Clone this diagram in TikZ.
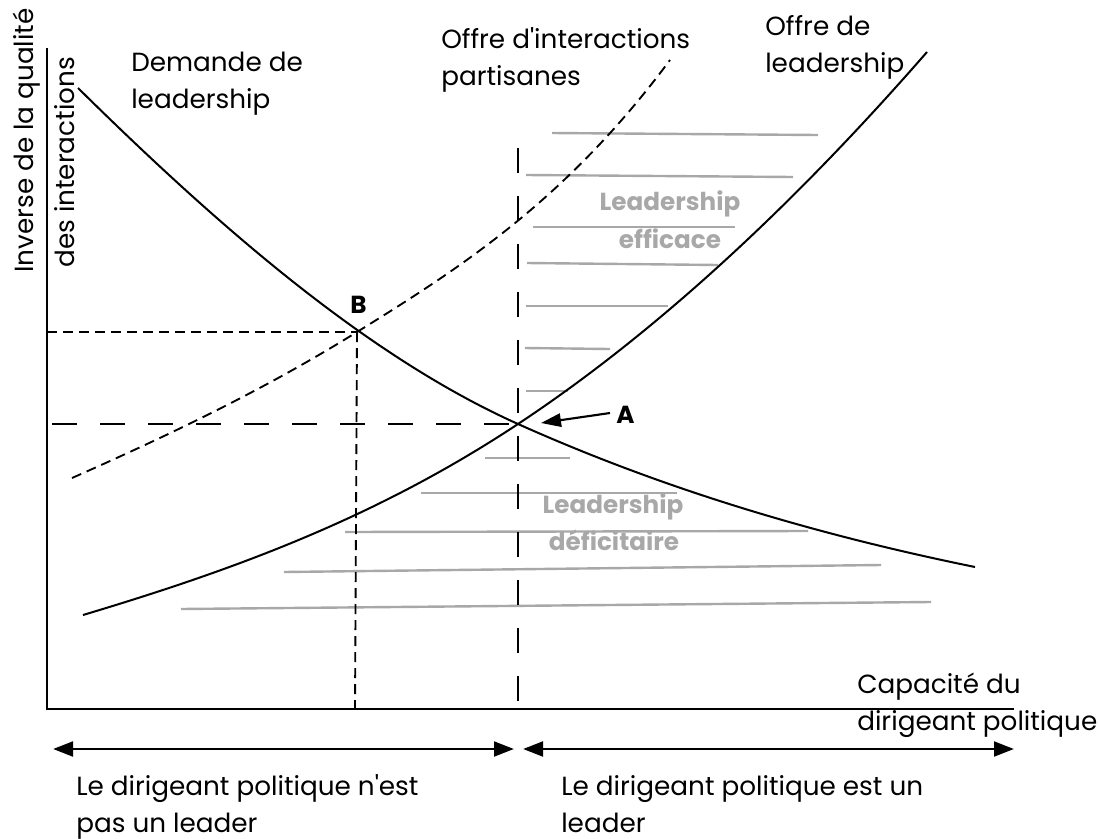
\documentclass[tikz,border=0pt]{standalone}
\usepackage{fontspec}
\setmainfont{Poppins}
\usetikzlibrary{arrows.meta}
\definecolor{hatchgray}{HTML}{A8A8A8}
\begin{document}
\begin{tikzpicture}[x=0.75pt,y=-0.75pt,
  curve/.style={line width=1.5pt, line join=round},
  axisline/.style={line width=2pt},
  hatch/.style={line width=1.8pt, color=hatchgray},
  shortdash/.style={line width=1.4pt, dash pattern=on 7.5pt off 4.5pt},
  longdash/.style={line width=1.5pt, dash pattern=on 19pt off 17pt},
  lbl/.style={font=\fontsize{19.7}{24}\selectfont, anchor=base west, inner sep=0pt},
  glbl/.style={font=\fontsize{18.5}{24}\selectfont\bfseries, text=hatchgray, anchor=base, inner sep=0pt},
  ptlbl/.style={font=\fontsize{18.5}{24}\selectfont\bfseries, anchor=base west, inner sep=0pt},
  dblarrow/.style={line width=2.2pt, {Triangle[length=15pt,width=11pt]}-{Triangle[length=15pt,width=11pt]}}
]
\useasboundingbox (0,0) rectangle (1100,839);

% coordinates
\coordinate (O) at (47,709);
\coordinate (Ytop) at (47,48);
\coordinate (Xend) at (1014,709);
\coordinate (A) at (518,424);
\coordinate (B) at (357,332);
\coordinate (By) at (47,332);
\coordinate (Bx) at (355,709);
\coordinate (Ay) at (52,424);
\coordinate (Atop) at (518,148);
\coordinate (Ax) at (518,709);
\coordinate (Dstart) at (78,88);
\coordinate (Dend) at (975,567);
\coordinate (Sstart) at (83,615);
\coordinate (Send) at (927,52);
\coordinate (Pstart) at (72,478);
\coordinate (Pend) at (670,60);

% hatch lines
\draw[hatch] (552,133) -- (818,135);
\draw[hatch] (526,175) -- (793,177);
\draw[hatch] (533,227) -- (735,227);
\draw[hatch] (527,263) -- (718,265);
\draw[hatch] (526,306) -- (668,306);
\draw[hatch] (525,348) -- (610,349);
\draw[hatch] (526,391) -- (568,391);
\draw[hatch] (485,458) -- (570,458);
\draw[hatch] (421,493) -- (677,493);
\draw[hatch] (345,532) -- (808,531);
\draw[hatch] (284,572) -- (881,565);
\draw[hatch] (181,609) -- (931,602);

\node[glbl] (le1) at (670,210) {Leadership};
\node[glbl] (le2) at (670,248) {efficace};
\node[glbl] (ld1) at (613,513) {Leadership};
\node[glbl] (ld2) at (614,550) {déficitaire};

% axes
\draw[axisline] (Ytop) -- (O) -- (Xend);

% dashed guide lines
\draw[shortdash] (By) -- (B);
\draw[shortdash] (B) -- (Bx);
\draw[longdash] (Ay) -- (A);
\draw[longdash] (Atop) -- (Ax);

% curves
\draw[curve] (Dstart) .. controls (225,233) and (371,358) .. (A)
                     .. controls (670,492) and (823,536) .. (Dend);
\draw[curve] (Sstart) .. controls (228,571.5) and (373,520) .. (A)
                     .. controls (654,334) and (791,208) .. (Send);
\draw[shortdash] (Pstart) .. controls (167,436) and (262,391) .. (B)
                         .. controls (461,267.5) and (566,200) .. (Pend);

% A arrow
\coordinate (Atail) at (610,413);
\coordinate (Ahead) at (541,423);
\draw[line width=1.6pt, -{Triangle[length=15pt,width=10pt]}] (Atail) -- (Ahead);
\node[ptlbl] (Alab) at (616,423) {A};
\node[ptlbl] (Blab) at (350,313) {B};

% labels
\node[lbl, rotate=90] (yl1) at (33,273) {Inverse de la qualité};
\node[lbl, rotate=90] (yl2) at (74,268) {des interactions};

\node[lbl] (dem1) at (131,71) {Demande de};
\node[lbl] (dem2) at (131,108) {leadership};
\node[lbl] (oi1) at (441,48) {Offre d\textquotesingle interactions};
\node[lbl] (oi2) at (441,85) {partisanes};
\node[lbl] (ol1) at (765,35) {Offre de};
\node[lbl] (ol2) at (765,72) {leadership};
\node[lbl] (cap1) at (857,693) {Capacité du};
\node[lbl] (cap2) at (857,730) {dirigeant politique};

% bottom arrows
\coordinate (L1) at (53,749);
\coordinate (L2) at (514,749);
\coordinate (R1) at (523,749);
\coordinate (R2) at (1014,749);
\draw[dblarrow] (L1) -- (L2);
\draw[dblarrow] (R1) -- (R2);

\node[lbl] (nl1) at (76,795) {Le dirigeant politique n\textquotesingle est};
\node[lbl] (nl2) at (76,832) {pas un leader};
\node[lbl] (ll1) at (561,795) {Le dirigeant politique est un};
\node[lbl] (ll2) at (561,832) {leader};
\end{tikzpicture}
\end{document}
